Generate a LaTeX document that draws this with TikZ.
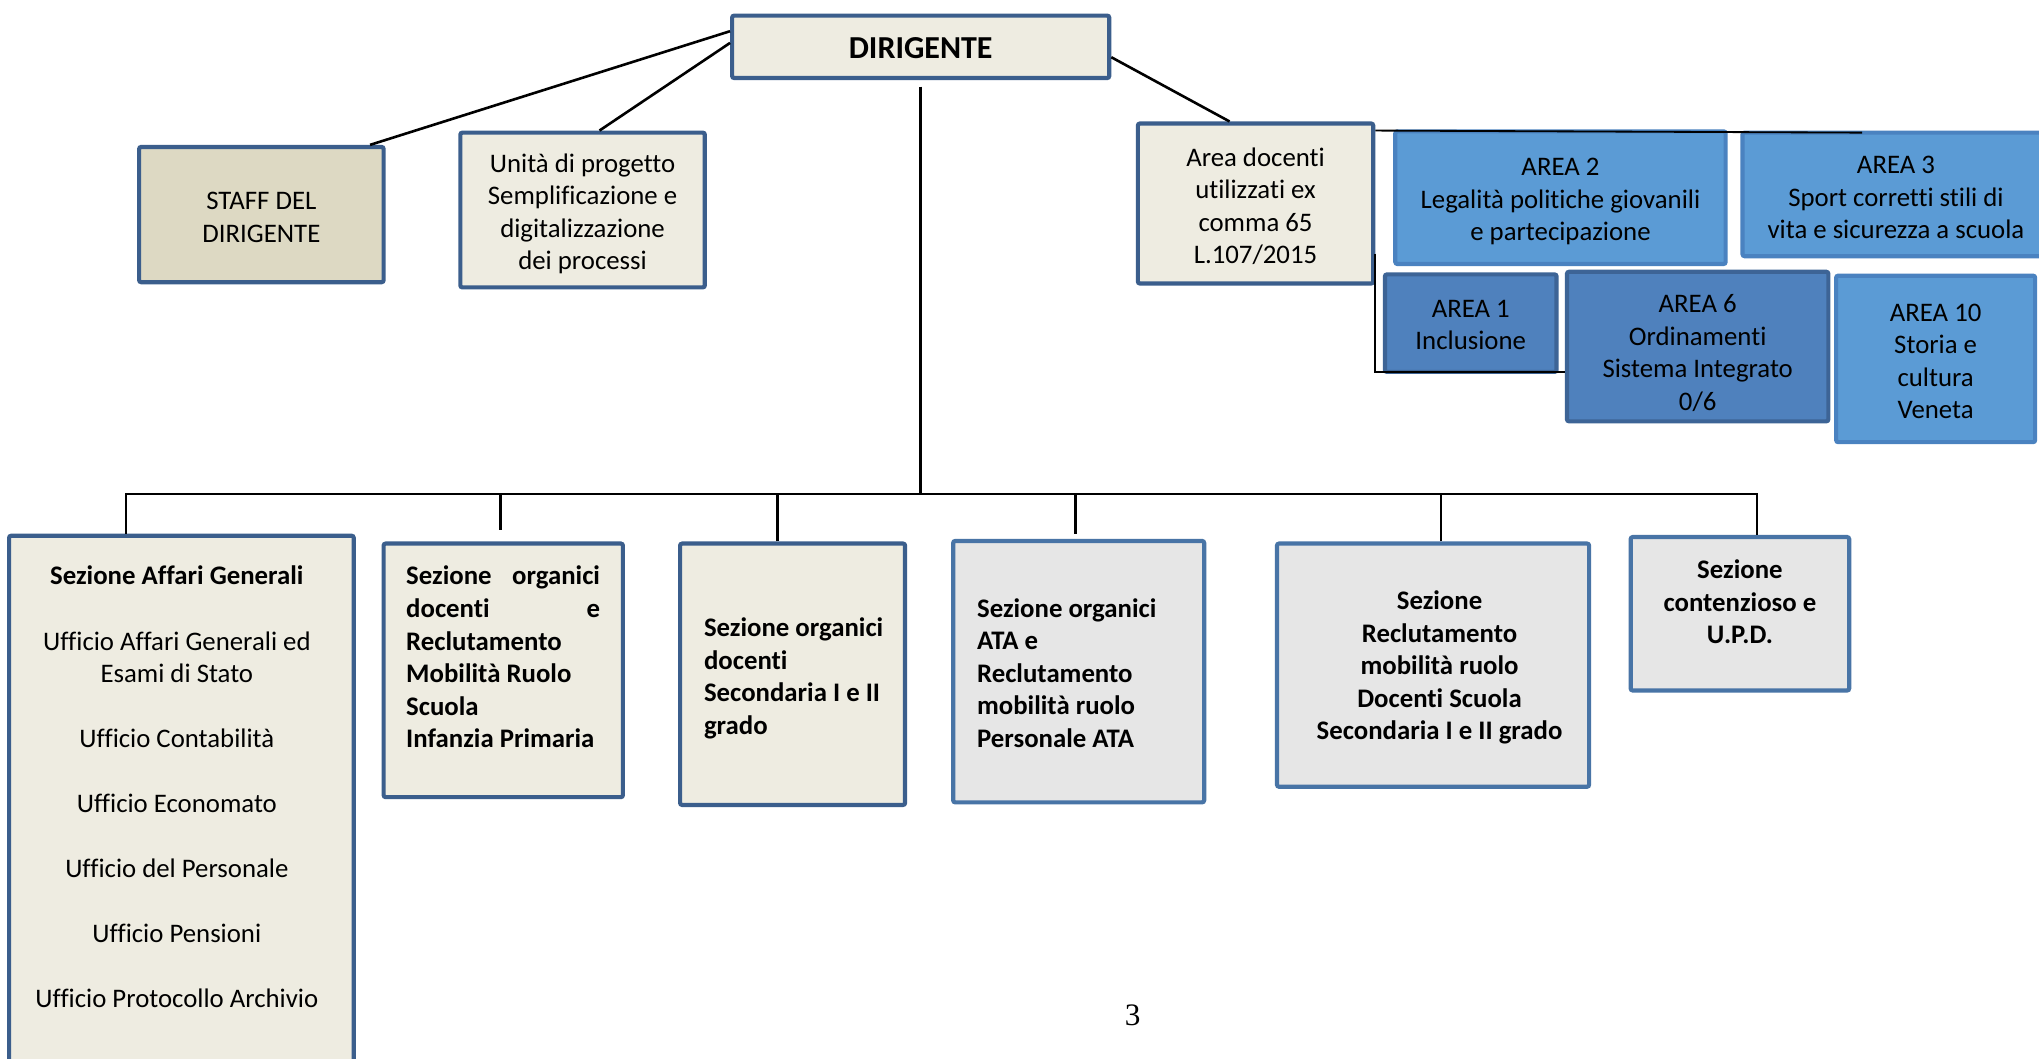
\documentclass[tikz,border=0pt]{standalone}
\usepackage{fontspec}
\setmainfont{Carlito}[Ligatures=NoCommon]
\newfontfamily\pgnumfont{Liberation Serif}
\usetikzlibrary{calc}
\definecolor{beigeL}{HTML}{EEECE1}
\definecolor{beigeD}{HTML}{DDD9C3}
\definecolor{grayF}{HTML}{E6E6E6}
\definecolor{blueM}{HTML}{5B9BD5}
\definecolor{blueD}{HTML}{4F81BD}
\definecolor{bordD}{HTML}{3B5E8C}
\definecolor{bordG}{HTML}{4874A6}
\definecolor{bordM}{HTML}{4A82C0}
\definecolor{bordB}{HTML}{3D6496}
\tikzset{
  box/.style={draw=bordD, line width=1.6pt, fill=beigeL, inner sep=0pt, rectangle, rounded corners=0.8pt},
  gbox/.style={box, draw=bordG, fill=grayF},
  abox/.style={box, draw=bordM, fill=blueM},
  dbox/.style={box, draw=bordB, fill=blueD},
  sz/.style 2 args={minimum width=#1, minimum height=#2},
  txt/.style={font=\fontsize{10.3pt}{12.5pt}\selectfont, align=center, inner sep=0pt},
  btxt/.style={font=\fontsize{10.3pt}{12.5pt}\selectfont\bfseries, inner sep=0pt},
  conn/.style={line width=1pt, black},
  thinc/.style={line width=0.7pt, black},
}
\begin{document}
\begin{tikzpicture}[x=0.5pt,y=-0.5pt]
\useasboundingbox (0,0) rectangle (1568,814);
\fill[white] (0,0) rectangle (1568,814);

% top row boxes
\node[box, sz={145pt}{24pt}] (dir) at (708,36) {};
\node[box, fill=beigeD, sz={94pt}{52pt}] (staff) at (201,165) {};
\node[box, sz={94pt}{59.5pt}] (unita) at (448,161.5) {};
\node[box, sz={90.5pt}{61.5pt}] (adoc) at (965.5,156.5) {};
\node[abox, sz={127pt}{51pt}] (a2) at (1200,152) {};
\node[abox, sz={118pt}{47.5pt}] (a3) at (1458,149.5) {};
\node[dbox, sz={66pt}{37.5pt}] (a1) at (1131,248.5) {};
\node[dbox, sz={100.5pt}{57.5pt}] (a6) at (1305.5,266.5) {};
\node[abox, sz={76.5pt}{64pt}] (a10) at (1488.5,276) {};

% top row texts
\node[font=\fontsize{12.3pt}{14pt}\selectfont\bfseries, inner sep=0pt] (dirT) at ([yshift=-0.5pt]dir.center) {DIRIGENTE};
\node[txt] (staffT) at ([yshift=-1pt]staff.center) {STAFF DEL\\DIRIGENTE};
\node[txt] (unitaT) at ([yshift=-1.5pt]unita.center) {Unità di progetto\\Semplificazione e\\digitalizzazione\\dei processi};
\node[txt] (adocT) at ([yshift=-1pt]adoc.center) {Area docenti\\utilizzati ex\\comma 65\\L.107/2015};
\node[txt] (a2T) at ([yshift=-1.5pt]a2.center) {AREA 2\\Legalità politiche giovanili\\e partecipazione};
\node[txt] (a3T) at ([yshift=-1.25pt]a3.center) {AREA 3\\Sport corretti stili di\\vita e sicurezza a scuola};
\node[txt] (a1T) at ([yshift=-0.75pt]a1.center) {AREA 1\\Inclusione};
\node[txt] (a6T) at ([yshift=-2.5pt]a6.center) {AREA 6\\Ordinamenti\\Sistema Integrato\\0/6};
\node[txt] (a10T) at ([yshift=-1pt]a10.center) {AREA 10\\Storia e\\cultura\\Veneta};

% bottom row
\node[box, sz={132.5pt}{214pt}] (aff) at (139.5,626) {};
\node[txt, anchor=north] (affT) at (136,435) {\textbf{Sezione Affari Generali}\\[12.5pt]
  Ufficio Affari Generali ed\\Esami di Stato\\[12.5pt]
  Ufficio Contabilità\\[12.5pt]
  Ufficio Economato\\[12.5pt]
  Ufficio del Personale\\[12.5pt]
  Ufficio Pensioni\\[12.5pt]
  Ufficio Protocollo Archivio};
\node[box, sz={92pt}{97.5pt}] (org) at (387,515.5) {};
\node[btxt, anchor=north west, text width=74.5pt, align=flush left] (orgT) at (312,435)
  {Sezione\hfill organici\\docenti\hfill e\\Reclutamento\\Mobilità Ruolo\\Scuola\\Infanzia Primaria};
\node[box, sz={86.5pt}{100.5pt}] (sec) at (609.5,518.5) {};
\node[btxt, anchor=west, text width=76pt, align=flush left] (secT) at (541,521.5)
  {Sezione organici\\docenti\\Secondaria I e II\\grado};
\node[gbox, sz={96.5pt}{100.5pt}] (ata) at (829.5,516.5) {};
\node[btxt, anchor=west, text width=80pt, align=flush left] (ataT) at (751,517.5)
  {Sezione organici\\ATA e\\Reclutamento\\mobilità ruolo\\Personale ATA};
\node[gbox, sz={120pt}{93.5pt}] (rec) at (1102,511.5) {};
\node[btxt, align=center] (recT) at ([xshift=2.5pt,yshift=-1pt]rec.center)
  {Sezione\\Reclutamento\\mobilità ruolo\\Docenti Scuola\\Secondaria I e II grado};
\node[gbox, sz={84pt}{59pt}] (con) at (1338,472) {};
\node[btxt, align=center, anchor=north] (conT) at (1338,430) {Sezione\\contenzioso e\\U.P.D.};

\node[font=\pgnumfont\fontsize{12pt}{14pt}\selectfont] (pg) at (871,781) {3};

% connectors from DIRIGENTE
\draw[conn] ([yshift=6pt]dir.west) -- ([xshift=-6pt]staff.north east);
\draw[conn] ([yshift=1.5pt]dir.west) -- ([xshift=6.5pt]unita.north);
\draw[conn] ([yshift=-4pt]dir.east) -- ([xshift=-10pt]adoc.north);

% bus
\coordinate (busR) at (1351,380);
\coordinate (bdir) at (708,380);
\coordinate (borg) at (385,380);
\coordinate (bsec) at (598,380);
\coordinate (bata) at (827,380);
\coordinate (brec) at (1108,380);
\draw[conn] ([yshift=-2.5pt]dir.south) -- (bdir);
\draw[conn] ([xshift=-21.25pt]aff.north) |- (busR) -- ([xshift=6.5pt]con.north);
\draw[conn] ([xshift=-1pt,yshift=4.5pt]org.north) -- (borg);
\draw[conn] ([xshift=-5.75pt]sec.north) -- (bsec);
\draw[conn] ([xshift=-1.25pt,yshift=2pt]ata.north) -- (bata);
\draw[conn] ([xshift=3pt]rec.north) -- (brec);

% area bracket
\coordinate (a3end) at (1432,102);
\draw[thinc] ([yshift=-3.5pt]adoc.north east) -- (a3end);
\draw[thinc] ([yshift=-19.25pt]adoc.east) |- ([yshift=-9.75pt]a6.west);
\end{tikzpicture}
\end{document}
